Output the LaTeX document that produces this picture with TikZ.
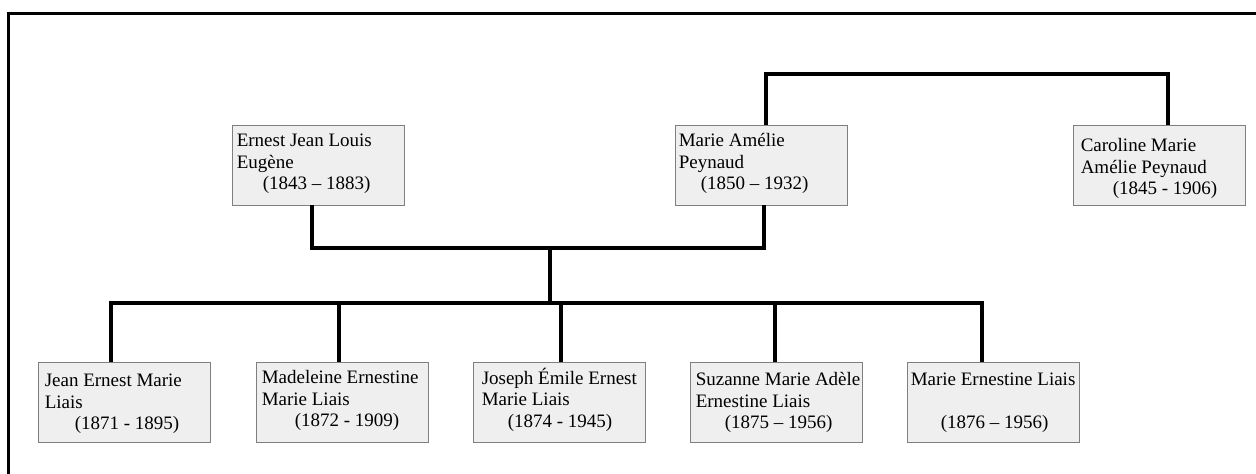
\documentclass[tikz,border=0pt]{standalone}
\usepackage{fontspec}
\setmainfont{Liberation Serif}
\usetikzlibrary{calc}
\definecolor{boxfill}{HTML}{EFEFEF}
\definecolor{boxline}{HTML}{7F7F7F}
\tikzset{
  person/.style={draw=boxline, line width=0.9pt, fill=boxfill, minimum width=172pt, minimum height=80pt, inner sep=0pt},
  txt/.style={anchor=north west, inner sep=0pt, align=left, font=\fontsize{19}{21.5}\selectfont},
  link/.style={line width=3.6pt, line join=miter},
  frame/.style={line width=3pt}
}
\begin{document}
\begin{tikzpicture}[x=1pt,y=-1pt]
\useasboundingbox (0,0) rectangle (1256,474);
% frame
\coordinate (fbl) at (8.7,480);
\coordinate (ftl) at (8.7,13.5);
\coordinate (ftr) at (1262,13.5);
\draw[frame] (fbl) -- (ftl) -- (ftr);

% boxes
\node[person] (ernest) at (318,165) {};
\node[person] (marie) at (761,165) {};
\node[person] (caroline) at (1159,165) {};
\node[person] (jean) at (124,402) {};
\node[person] (madeleine) at (342,402) {};
\node[person] (joseph) at (559,402) {};
\node[person] (suzanne) at (776,402) {};
\node[person] (marieE) at (993,402) {};

% texts (first baseline = top + dy, strut height 15)
\node[txt] (ernest-t) at ($(ernest.north west)+(5,22-15)$) {\strut Ernest Jean Louis\\Eugène\\\hspace*{26pt}(1843 – 1883)};
\node[txt] (marie-t) at ($(marie.north west)+(4,22-15)$) {\strut Marie Amélie\\Peynaud\\\hspace*{22pt}(1850 – 1932)};
\node[txt] (caroline-t) at ($(caroline.north west)+(8,27-15)$) {\strut Caroline Marie\\Amélie Peynaud\\\hspace*{32pt}(1845 - 1906)};
\node[txt] (jean-t) at ($(jean.north west)+(7,25-15)$) {\strut Jean Ernest Marie\\Liais\\\hspace*{30pt}(1871 - 1895)};
\node[txt] (madeleine-t) at ($(madeleine.north west)+(6,22-15)$) {\strut Madeleine Ernestine\\Marie Liais\\\hspace*{33pt}(1872 - 1909)};
\node[txt] (joseph-t) at ($(joseph.north west)+(9,21-15)$) {\strut Joseph Émile Ernest\\Marie Liais\\\hspace*{26pt}(1874 - 1945)};
\node[txt] (suzanne-t) at ($(suzanne.north west)+(6,24-15)$) {\strut Suzanne Marie Adèle\\Ernestine Liais\\\hspace*{29pt}(1875 – 1956)};
\node[txt] (marieE-t) at ($(marieE.north west)+(4,24-15)$) {\strut Marie Ernestine Liais\\[21.5pt]\hspace*{30pt}(1876 – 1956)};

% junctions
\coordinate (couple) at (550,248);
\coordinate (kids) at (550,303);
\coordinate (sisters) at (766,74);

% connectors
\draw[link] ([xshift=-6pt]ernest.south) |- (couple) -| ([xshift=3pt]marie.south);
\draw[link] (couple) -- (kids);
\draw[link] ([xshift=-13pt]jean.north) |- (kids) -| ([xshift=-11pt]marieE.north);
\draw[link] ([xshift=-3pt]madeleine.north) -- ([xshift=-3pt]madeleine.north |- kids);
\draw[link] ([xshift=2pt]joseph.north) -- ([xshift=2pt]joseph.north |- kids);
\draw[link] ([xshift=-1pt]suzanne.north) -- ([xshift=-1pt]suzanne.north |- kids);
\draw[link] ([xshift=5pt]marie.north) |- (sisters) -| ([xshift=9pt]caroline.north);
\end{tikzpicture}
\end{document}
